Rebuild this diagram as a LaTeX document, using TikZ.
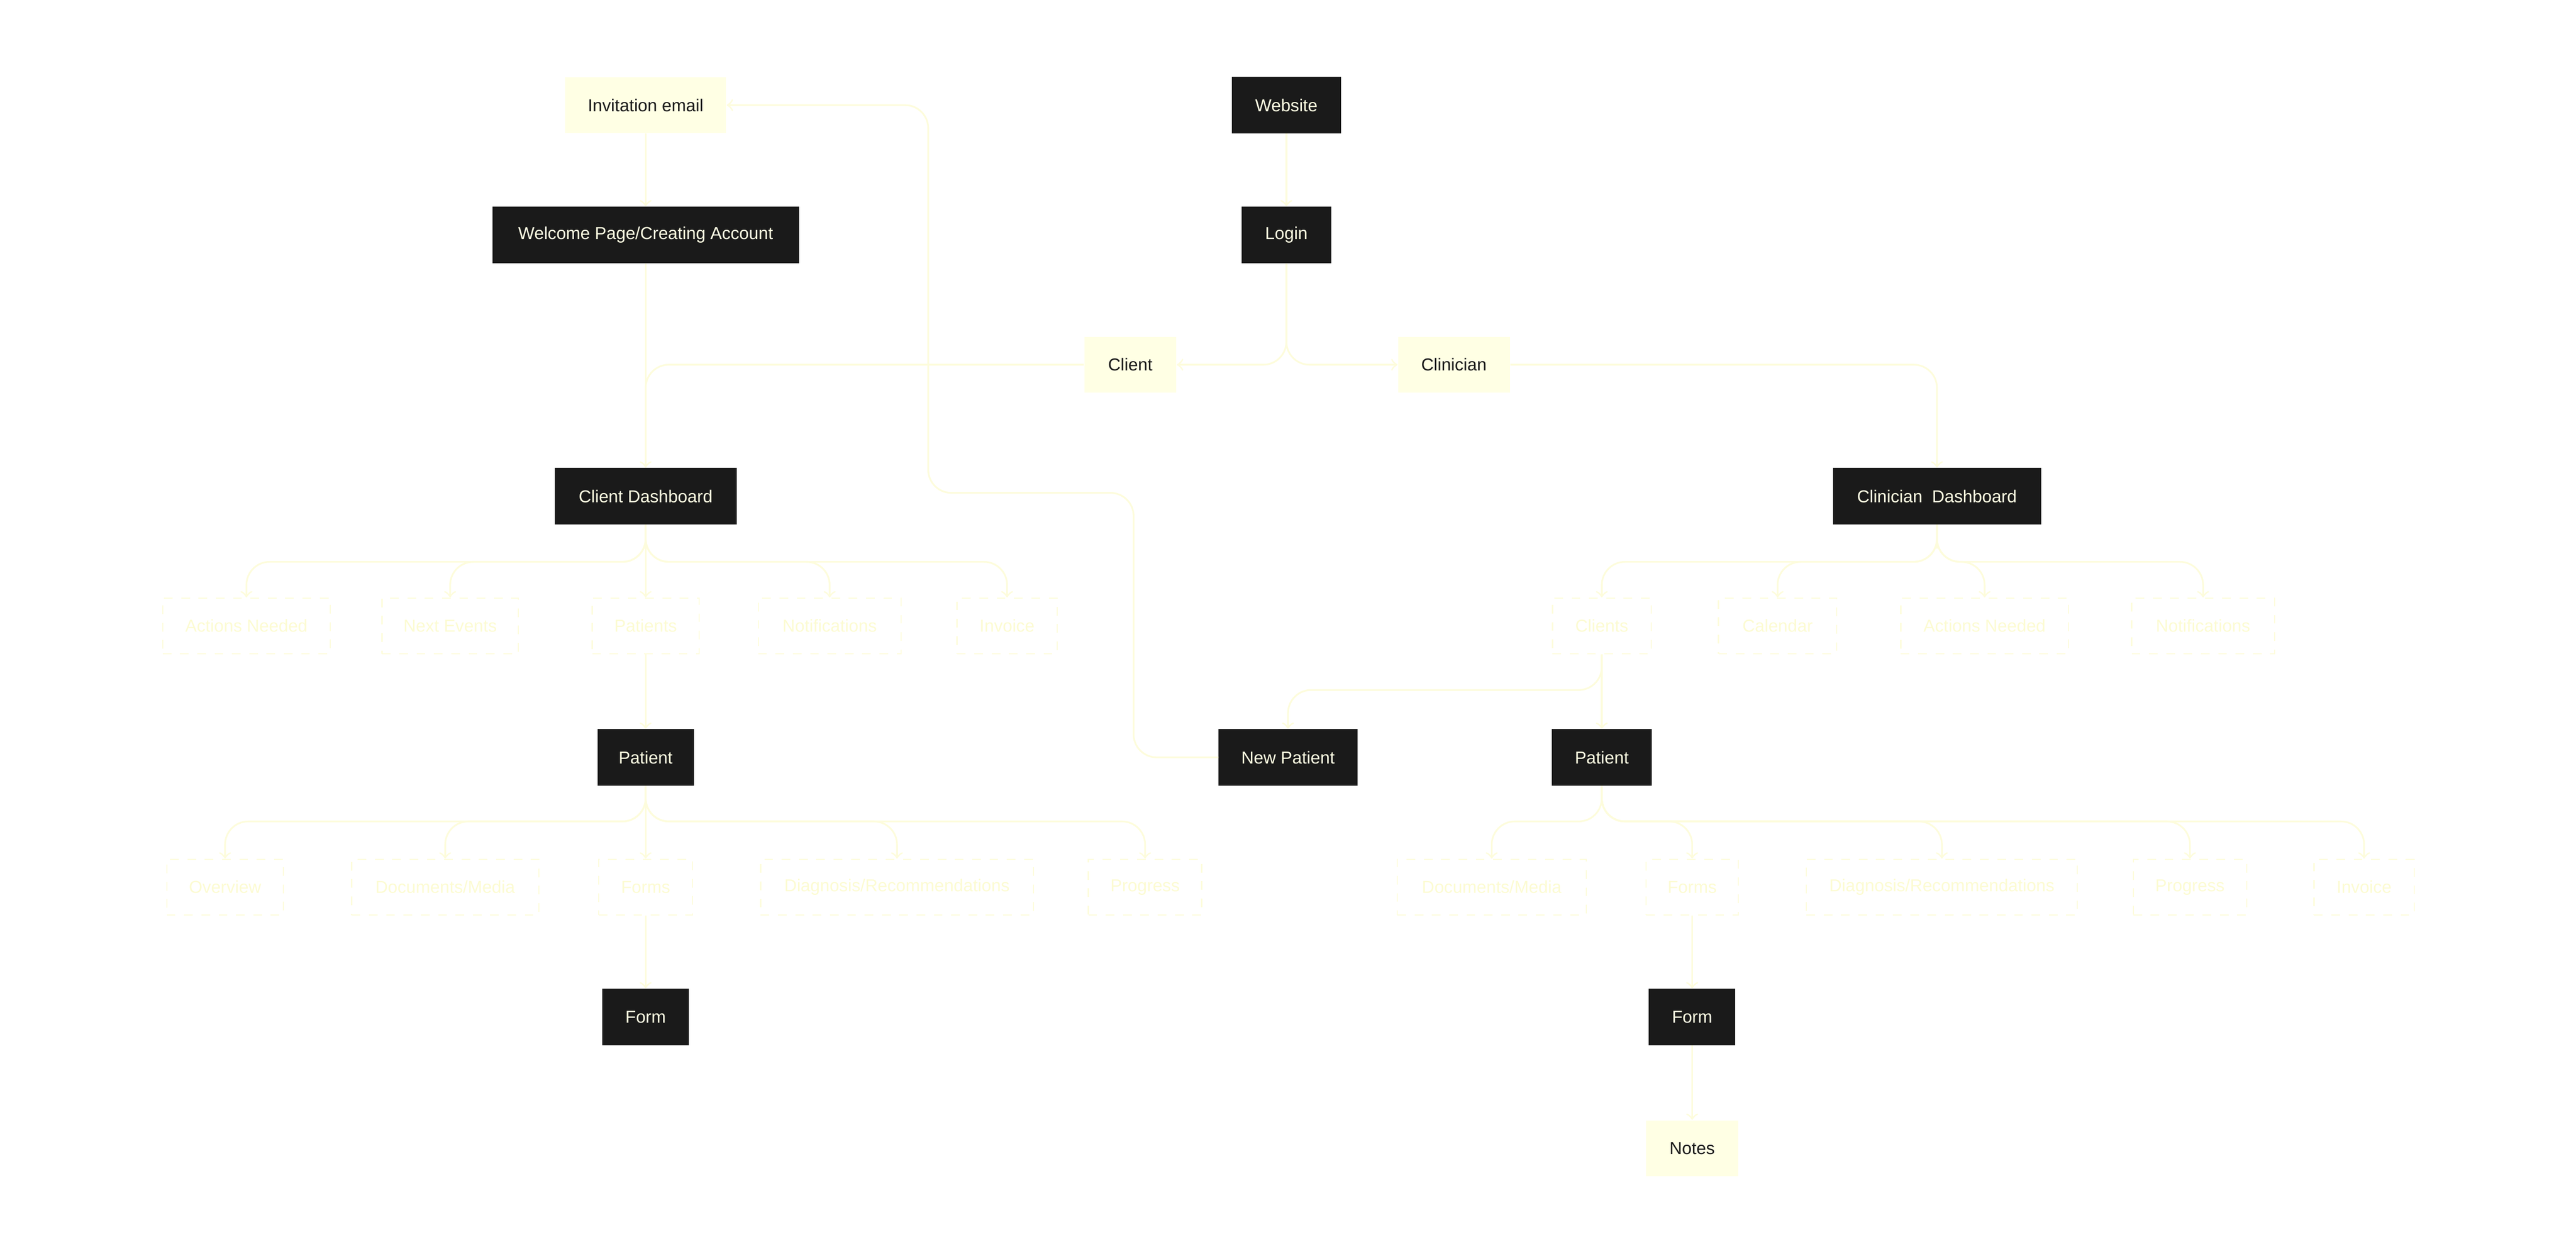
\documentclass[tikz,border=0pt]{standalone}
\usepackage{fontspec}
\setmainfont{Liberation Sans}
\usepackage{tikz}
\usetikzlibrary{arrows,calc}
\definecolor{ink}{HTML}{1A1A1A}
\definecolor{cream}{HTML}{FFFFE4}
\definecolor{paleline}{HTML}{FDFCDC}
\definecolor{paletext}{HTML}{FCFBD2}
\begin{document}
\begin{tikzpicture}[x=0.02cm, y=-0.02cm, font=\fontsize{6}{7}\selectfont]
	\tikzstyle{dark}=[draw=ink, fill=ink, text=cream, rectangle, minimum height=0.68cm, inner sep=0pt]
	\tikzstyle{light}=[fill=cream, text=ink, rectangle, minimum height=0.68cm, inner sep=0pt]
	\tikzstyle{ghost}=[draw=paleline, dashed, text=paletext, rectangle, minimum height=0.68cm, inner sep=0pt]
	\tikzstyle{conn}=[draw=paleline, line width=0.6pt, rounded corners=8pt]
	
	\useasboundingbox (0,0) rectangle (1568,763);
	
	\node[light, minimum width=1.96cm] (inv) at (393,64) {Invitation email};
	\node[dark, minimum width=1.32cm] (web) at (783,64) {Website};
	\node[dark, minimum width=3.72cm] (welc) at (393,143) {Welcome Page/Creating Account};
	\node[dark, minimum width=1.08cm] (login) at (783,143) {Login};
	\node[light, minimum width=1.12cm] (cli) at (688,222) {Client};
	\node[light, minimum width=1.36cm] (clin) at (885,222) {Clinician};
	
	\node[dark, minimum width=2.2cm] (cdash) at (393,302) {Client Dashboard};
	\node[dark, minimum width=2.52cm] (kdash) at (1179,302) {Clinician\ \ Dashboard};
	
	\node[ghost, minimum width=2.04cm] (cact) at (150,381) {Actions Needed};
	\node[ghost, minimum width=1.66cm] (cnext) at (274,381) {Next Events};
	\node[ghost, minimum width=1.3cm] (cpats) at (393,381) {Patients};
	\node[ghost, minimum width=1.74cm] (cnot) at (505,381) {Notifications};
	\node[ghost, minimum width=1.22cm] (cinv) at (613,381) {Invoice};
	
	\node[ghost, minimum width=1.2cm] (kcli) at (975,381) {Clients};
	\node[ghost, minimum width=1.44cm] (kcal) at (1082,381) {Calendar};
	\node[ghost, minimum width=2.04cm] (kact) at (1208,381) {Actions Needed};
	\node[ghost, minimum width=1.74cm] (knot) at (1341,381) {Notifications};
	
	\node[dark, minimum width=1.16cm] (cpat) at (393,461) {Patient};
	\node[dark, minimum width=1.68cm] (newp) at (784,461) {New Patient};
	\node[dark, minimum width=1.2cm] (kpat) at (975,461) {Patient};
	
	\node[ghost, minimum width=1.42cm] (cover) at (137,540) {Overview};
	\node[ghost, minimum width=2.28cm] (cdoc) at (271,540) {Documents/Media};
	\node[ghost, minimum width=1.14cm] (cforms) at (393,540) {Forms};
	\node[ghost, minimum width=3.32cm] (cdiag) at (546,540) {Diagnosis/Recommendations};
	\node[ghost, minimum width=1.38cm] (cprog) at (697,540) {Progress};
	
	\node[ghost, minimum width=2.3cm] (kdoc) at (908,540) {Documents/Media};
	\node[ghost, minimum width=1.12cm] (kforms) at (1030,540) {Forms};
	\node[ghost, minimum width=3.3cm] (kdiag) at (1182,540) {Diagnosis/Recommendations};
	\node[ghost, minimum width=1.38cm] (kprog) at (1333,540) {Progress};
	\node[ghost, minimum width=1.22cm] (kinv) at (1439,540) {Invoice};
	
	\node[dark, minimum width=1.04cm] (cform) at (393,619) {Form};
	\node[dark, minimum width=1.04cm] (kform) at (1030,619) {Form};
	\node[light, minimum width=1.12cm] (notes) at (1030,699) {Notes};
	
	\coordinate (cb) at (0,342);
	\coordinate (kb) at (0,342);
	\coordinate (pb) at (0,500);
	\coordinate (nb) at (0,420);
	\coordinate (r1) at (690,300);
	\coordinate (r2) at (565,64);
	
	\draw[conn, ->] (web) -- (login);
	\draw[conn, ->] (login.south) |- (cli.east);
	\draw[conn, ->] (login.south) |- (clin.west);
	\draw[conn, ->] (inv) -- (welc);
	\draw[conn, ->] (welc) -- (cdash);
	\draw[conn] (cli.west) -| (cdash.north);
	\draw[conn, ->] (clin.east) -| (kdash.north);
	
	\foreach \t in {cact,cnext,cnot,cinv}
		\draw[conn, ->] (cdash.south) |- (cdash.south |- cb) -| (\t.north);
	\draw[conn, ->] (cdash) -- (cpats);
	\foreach \t in {kcli,kcal,kact,knot}
		\draw[conn, ->] (kdash.south) |- (kdash.south |- kb) -| (\t.north);
	
	\draw[conn, ->] (cpats) -- (cpat);
	\draw[conn, ->] (kcli) -- (kpat);
	\draw[conn, ->] (kcli.south) -- (kcli.south |- nb) -| (newp.north);
	\draw[conn, ->] (newp.west) -| (r1) -| (r2) -- (inv.east);
	
	\foreach \t in {cover,cdoc,cdiag,cprog}
		\draw[conn, ->] (cpat.south) -- (cpat.south |- pb) -| (\t.north);
	\draw[conn, ->] (cpat) -- (cforms);
	\foreach \t in {kdoc,kforms,kdiag,kprog,kinv}
		\draw[conn, ->] (kpat.south) -- (kpat.south |- pb) -| (\t.north);
	
	\draw[conn, ->] (cforms) -- (cform);
	\draw[conn, ->] (kforms) -- (kform);
	\draw[conn, ->] (kform) -- (notes);
\end{tikzpicture}
\end{document}
